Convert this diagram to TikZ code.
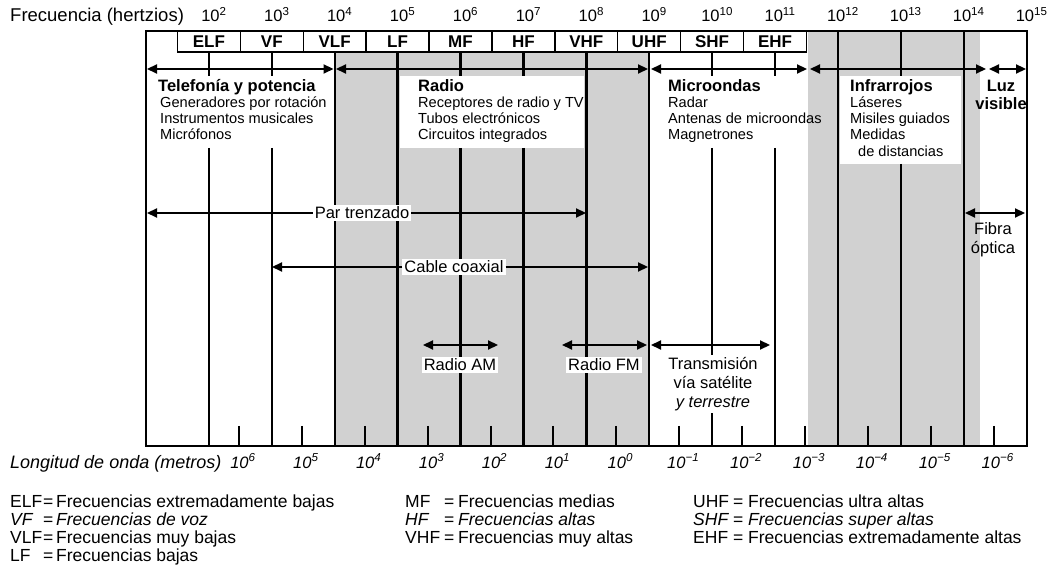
\documentclass[tikz,border=0pt]{standalone}
\usepackage{fontspec}
\setmainfont{Liberation Sans}
\usetikzlibrary{arrows.meta}

\begin{document}
\begin{tikzpicture}[x=1pt,y=-1pt,
	vline/.style={line width=2.4pt},
	wtick/.style={line width=2pt},
	band/.style={draw,line width=1.4pt,fill=white,minimum width=62.9pt,minimum height=21pt,inner sep=0pt,font=\fontsize{17}{17}\selectfont\bfseries},
	twohead/.style={line width=2.2pt,{Triangle[length=10pt,width=9pt]}-{Triangle[length=10pt,width=9pt]}},
	onehead/.style={line width=2.2pt,-{Triangle[length=10pt,width=9pt]}},
	head/.style={anchor=base west,inner sep=0pt,font=\fontsize{16.5}{18}\selectfont\bfseries},
	itm/.style={anchor=base west,inner sep=0pt,font=\fontsize{14.6}{16}\selectfont},
	lbl/.style={fill=white,inner sep=2pt,align=center,font=\fontsize{16.5}{19}\selectfont},
	num/.style={inner sep=0pt,font=\fontsize{16.5}{16}\selectfont},
	leg/.style={anchor=base west,inner sep=0pt,font=\fontsize{17.5}{17}\selectfont}]
\useasboundingbox (0,0) rectangle (1061,577);

% shaded bands
\fill[black!18] (334.7,52) rectangle (649.2,446);
\fill[black!18] (808,31) rectangle (980,446);
\fill[white] (400,76) rectangle (584,148);
\fill[white] (840,76) rectangle (961,164);

% decade lines
\foreach \k in {4,5,8,9}
	\draw[vline] ({146+62.9*(\k-1)},52) -- ({146+62.9*(\k-1)},446);
\foreach \k in {12,14}
	\draw[vline] ({146+62.9*(\k-1)},31) -- ({146+62.9*(\k-1)},446);
\foreach \k in {2,3,6,7,10,11} {
	\draw[vline] ({146+62.9*(\k-1)},52) -- ({146+62.9*(\k-1)},76);
	\draw[vline] ({146+62.9*(\k-1)},148) -- ({146+62.9*(\k-1)},446);
}
\draw[vline] ({146+62.9*12},31) -- ({146+62.9*12},76);
\draw[vline] ({146+62.9*12},164) -- ({146+62.9*12},446);
\foreach \k in {2,...,14}
	\draw[wtick] ({146+62.9*(\k-0.523)},426) -- ({146+62.9*(\k-0.523)},446);
\draw[line width=2pt] (146,31) rectangle (1026.6,446);

\foreach \k/\b in {2/ELF,3/VF,4/VLF,5/LF,6/MF,7/HF,8/VHF,9/UHF,10/SHF,11/EHF}
	\node[band] (\b) at ({146+62.9*(\k-1)},41.5) {\b};

% frequency scale
\node[leg,font=\fontsize{18.5}{18}\selectfont] (freq) at (10,22) {Frecuencia (hertzios)};
\foreach \k in {2,...,15}
	\node[num,anchor=base] (f\k) at ({151+62.9*(\k-1)},22) {10\textsuperscript{\k}};

% uses
\coordinate (tel-l) at (147,69);
\coordinate (tel-r) at (333.5,69);
\coordinate (rad-l) at (336,69);
\coordinate (rad-r) at (648,69);
\coordinate (mic-l) at (651,69);
\coordinate (mic-r) at (807,69);
\coordinate (ir-l) at (810,69);
\coordinate (ir-r) at (986,69);
\coordinate (luz-l) at (989,69);
\coordinate (luz-r) at (1026,69);
\draw[twohead] (tel-l) -- (tel-r);
\draw[twohead] (rad-l) -- (rad-r);
\draw[twohead] (mic-l) -- (mic-r);
\draw[twohead] (ir-l) -- (ir-r);
\draw[twohead] (luz-l) -- (luz-r);

\node[head] (tel) at (158,92) {Telefonía y potencia};
\foreach \t [count=\i] in {Generadores por rotación,Instrumentos musicales,Micrófonos}
	\node[itm] (tel\i) at (160,92+16*\i) {\t};
\node[head] (rad) at (418,92) {Radio};
\foreach \t [count=\i] in {Receptores de radio y TV,Tubos electrónicos,Circuitos integrados}
	\node[itm] (rad\i) at (418,92+16*\i) {\t};
\node[head] (mic) at (668,92) {Microondas};
\foreach \t [count=\i] in {Radar,Antenas de microondas,Magnetrones}
	\node[itm] (mic\i) at (668,92+16*\i) {\t};
\node[head] (ir) at (850,92) {Infrarrojos};
\foreach \t [count=\i] in {Láseres,Misiles guiados,Medidas}
	\node[itm] (ir\i) at (850,92+16*\i) {\t};
\node[itm] (ir4) at (858,157) {de distancias};
\node[head,anchor=center,align=center] (luz) at (1001,95) {Luz\\visible};

% transmission media
\node[lbl] (par) at (362,213) {Par trenzado};
\coordinate (par-l) at (147,213);
\coordinate (par-r) at (586,213);
\draw[onehead] (par) -- (par-l);
\draw[onehead] (par) -- (par-r);
\node[lbl] (cox) at (454,267) {Cable coaxial};
\coordinate (cox-l) at (272,267);
\coordinate (cox-r) at (648,267);
\draw[onehead] (cox) -- (cox-l);
\draw[onehead] (cox) -- (cox-r);
\coordinate (fib-l) at (965,213);
\coordinate (fib-r) at (1025,213);
\draw[twohead] (fib-l) -- (fib-r);
\node[lbl,fill=none] (fib) at (993,240) {Fibra\\óptica};

\coordinate (am-l) at (423,345);
\coordinate (am-r) at (498,345);
\draw[twohead] (am-l) -- (am-r);
\node[lbl] (am) at (460,365) {Radio AM};
\coordinate (fm-l) at (562,345);
\coordinate (fm-r) at (647,345);
\draw[twohead] (fm-l) -- (fm-r);
\node[lbl] (fm) at (604,365) {Radio FM};
\coordinate (sat-l) at (651,345);
\coordinate (sat-r) at (770,345);
\draw[twohead] (sat-l) -- (sat-r);
\node[lbl] (sat) at (713,384) {Transmisión\\vía satélite\\\textit{y terrestre}};

% wavelength scale
\node[leg,font=\fontsize{18}{18}\selectfont\itshape] (lam) at (10,468) {Longitud de onda (metros)};
\foreach \k/\e in {2/6,3/5,4/4,5/3,6/2,7/1,8/0,9/−1,10/−2,11/−3,12/−4,13/−5,14/−6}
	\node[num,anchor=base,font=\fontsize{16.5}{16}\selectfont\itshape] (w\k) at ({150+62.9*(\k-0.523)},468) {10\textsuperscript{\e}};

% legend
\foreach \a/\t [count=\i] in {ELF/Frecuencias extremadamente bajas,{\itshape VF}/{\itshape Frecuencias de voz},VLF/Frecuencias muy bajas,LF/Frecuencias bajas} {
	\node[leg] (ka\i) at (10,489+18*\i) {\a};
	\node[leg] (ea\i) at (43,489+18*\i) {=};
	\node[leg] (ta\i) at (56,489+18*\i) {\t};
}
\foreach \a/\t [count=\i] in {MF/Frecuencias medias,{\itshape HF}/{\itshape Frecuencias altas},VHF/Frecuencias muy altas} {
	\node[leg] (kb\i) at (405,489+18*\i) {\a};
	\node[leg] (eb\i) at (444,489+18*\i) {=};
	\node[leg] (tb\i) at (458,489+18*\i) {\t};
}
\foreach \a/\t [count=\i] in {UHF/Frecuencias ultra altas,{\itshape SHF}/{\itshape Frecuencias super altas},EHF/Frecuencias extremadamente altas} {
	\node[leg] (kc\i) at (693,489+18*\i) {\a};
	\node[leg] (ec\i) at (733,489+18*\i) {=};
	\node[leg] (tc\i) at (748,489+18*\i) {\t};
}

\end{tikzpicture}
\end{document}
